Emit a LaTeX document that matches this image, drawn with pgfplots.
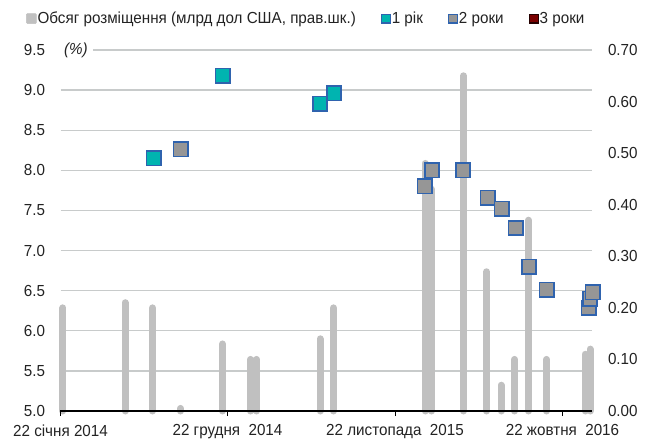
\documentclass[border=0pt]{standalone}
\usepackage{pgfplots}
\pgfplotsset{compat=1.18}
\usepackage{fontspec}
\setmainfont{Liberation Sans}[FakeStretch=0.95]
\definecolor{bargray}{RGB}{192,192,192}
\definecolor{gridgray}{RGB}{200,203,203}
\definecolor{mteal}{RGB}{0,180,176}
\definecolor{mgray}{RGB}{150,150,150}
\definecolor{mblue}{RGB}{47,99,174}
\definecolor{mred}{RGB}{122,0,0}
\definecolor{txt}{RGB}{35,35,35}

\pgfplotstableread{
x y
5 0.20
129 0.21
184 0.20
240 0.005
324 0.13
380 0.10
392 0.10
519 0.14
546 0.20
729 0.48
742 0.43
806 0.65
852 0.27
881 0.05
908 0.10
936 0.37
972 0.10
1049 0.11
1059 0.12
}\bars

\pgfplotstableread{
x y
186 8.15
324 9.18
519 8.83
547 8.96
}\oneyear

\pgfplotstableread{
x y
240 8.26
728 7.80
743 8.00
805 8.00
854 7.66
882 7.52
910 7.28
937 6.80
972 6.51
1056 6.29
1059 6.40
1064 6.48
}\twoyear

\begin{document}
\begin{tikzpicture}
\useasboundingbox (0,0) rectangle (651pt,445pt);
\pgfplotsset{
  base/.style={at={(60.5pt,34pt)}, anchor=south west, width=531pt, height=361pt,
    scale only axis, xmin=0, xmax=1062, clip=false,
    tick label style={font=\fontsize{16}{18}\selectfont, text=txt}},
}
% Axis A: grid + left labels
\begin{axis}[base, ymin=5, ymax=9.5,
  ytick={5,5.5,...,9.5},
  axis x line=none,
  axis y line*=left, y axis line style={draw=none}, ytick style={draw=none},
  ymajorgrids, grid style={color=gridgray, line width=1.3pt},
  yticklabel style={xshift=-12pt, /pgf/number format/fixed, /pgf/number format/fixed zerofill, /pgf/number format/precision=1, /pgf/number format/assume math mode=true},
]
\addplot[draw=none] coordinates {(0,5)};
\end{axis}
% Axis B: bars + right labels
\begin{axis}[base, ymin=0, ymax=0.7,
  ytick={0,0.1,...,0.7},
  axis x line=none,
  axis y line*=right, y axis line style={draw=none}, ytick style={draw=none},
  yticklabel style={xshift=13pt, /pgf/number format/fixed, /pgf/number format/fixed zerofill, /pgf/number format/precision=2, /pgf/number format/assume math mode=true},
]
\addplot[ycomb, draw=bargray, line width=7pt, line cap=round] table[x=x,y=y] {\bars};
\end{axis}
% Axis C: x axis, markers, legend
\begin{axis}[base, ymin=5, ymax=9.5,
  axis y line=none,
  axis x line*=bottom, x axis line style={black, line width=1.3pt},
  xtick={0,334,669,1004},
  xticklabels={22 січня 2014, 22 грудня\ \ 2014, 22 листопада\ \ 2015, 22 жовтня\ \ 2016},
  xtick style={black, line width=1pt}, tick align=outside, major tick length=5pt,
  xticklabel style={yshift=-5pt},
  legend style={at={(0.462,1.087)}, anchor=center, draw=none, fill=none,
    legend columns=4, font=\fontsize{16}{18}\selectfont, text=txt,
    /tikz/every even column/.append style={column sep=24pt},
    nodes={inner xsep=1pt}},
  legend cell align=left,
]
\addlegendimage{legend image code/.code={\fill[bargray, rounded corners=1pt] (0pt,-5pt) rectangle (10pt,5pt);}}
\addlegendentry{Обсяг розміщення (млрд дол США, прав.шк.)}
\addlegendimage{legend image code/.code={\filldraw[fill=mteal, draw=mblue, line width=1.2pt] (0.6pt,-4.4pt) rectangle (9.4pt,4.4pt);}}
\addlegendentry{1 рік}
\addlegendimage{legend image code/.code={\filldraw[fill=mgray, draw=mblue, line width=1.2pt] (0.6pt,-4.4pt) rectangle (9.4pt,4.4pt);}}
\addlegendentry{2 роки}
\addlegendimage{legend image code/.code={\filldraw[fill=mred, draw=black!70!mred, line width=1.2pt] (0.6pt,-4.4pt) rectangle (9.4pt,4.4pt);}}
\addlegendentry{3 роки}
\addplot[only marks, mark=square*, mark size=7.2pt, mark options={fill=mgray!100, draw=mblue, line width=1.6pt, fill=mteal}, forget plot] table[x=x,y=y] {\oneyear};
\addplot[only marks, mark=square*, mark size=7.2pt, mark options={fill=mgray, draw=mblue, line width=1.6pt}, forget plot] table[x=x,y=y] {\twoyear};
\node[fill=white, anchor=east, inner xsep=5pt, inner ysep=2pt, font=\itshape\fontsize{16}{18}\selectfont, text=txt] at (axis cs:65,9.5) {(\%)};
\end{axis}
\end{tikzpicture}
\end{document}
